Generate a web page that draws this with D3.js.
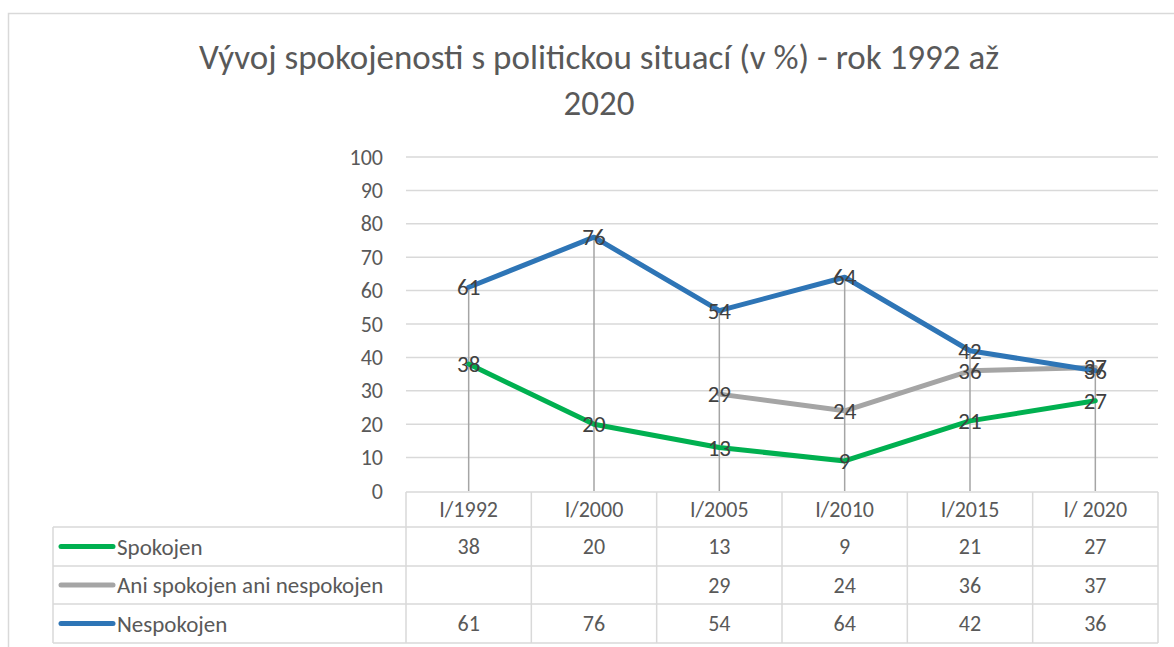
<!DOCTYPE html>
<html>
<head>
<meta charset="utf-8">
<script src="https://cdn.jsdelivr.net/npm/d3@7"></script>
<style>
  body { margin: 0; background: #fff; }
  text { font-family: Carlito, Lato, "Open Sans", sans-serif; }
</style>
</head>
<body>
<div id="chart"></div>
<script>
// data
const categories = ["I/1992", "I/2000", "I/2005", "I/2010", "I/2015", "I/ 2020"];
const spokojen = [38, 20, 13, 9, 21, 27];
const ani = [null, null, 29, 24, 36, 37];
const nespokojen = [61, 76, 54, 64, 42, 36];
const seriesNames = ["Spokojen", "Ani spokojen ani nespokojen", "Nespokojen"];
const yTicks = [0, 10, 20, 30, 40, 50, 60, 70, 80, 90, 100];

const colors = ["#00b050", "#a5a5a5", "#2e75b6"];
const allSeries = [spokojen, ani, nespokojen];

const W = 1174, H = 647;
const plot = { left: 406, right: 1158, top: 157, bottom: 491 };
const rowH = [492, 527, 566, 604, 643];

const svg = d3.select("#chart").append("svg")
  .attr("width", W).attr("height", H);

svg.append("rect").attr("width", W).attr("height", H).attr("fill", "#fff");

// outer chart frame
svg.append("rect")
  .attr("x", 8.5).attr("y", 13.5)
  .attr("width", 1300).attr("height", 800)
  .attr("fill", "none").attr("stroke", "#d9d9d9").attr("stroke-width", 1.5);

// title
svg.append("text")
  .attr("x", 599).attr("y", 69)
  .attr("text-anchor", "middle")
  .attr("font-size", 35).attr("font-weight", 300)
  .attr("fill", "#595959")
  .text("Vývoj spokojenosti s politickou situací (v %) - rok 1992 až");
svg.append("text")
  .attr("x", 599).attr("y", 115)
  .attr("text-anchor", "middle")
  .attr("font-size", 35).attr("font-weight", 300)
  .attr("fill", "#595959")
  .text("2020");

const x = d3.scaleBand().domain(categories).range([plot.left, plot.right]).padding(0);
const y = d3.scaleLinear().domain([0, 100]).range([plot.bottom, plot.top]);
const cx = (c) => x(c) + x.bandwidth() / 2;

// gridlines
svg.append("g")
  .selectAll("line")
  .data(yTicks.filter((t) => t > 0))
  .enter()
  .append("line")
  .attr("x1", plot.left).attr("x2", plot.right)
  .attr("y1", (d) => y(d)).attr("y2", (d) => y(d))
  .attr("stroke", "#d9d9d9").attr("stroke-width", 1.5);

// y axis labels
const yAxis = d3.axisLeft(y).tickValues(yTicks).tickSize(0).tickPadding(0);
const gy = svg.append("g").attr("transform", "translate(383,0)").call(yAxis);
gy.select(".domain").remove();
gy.selectAll("text")
  .attr("font-size", 22).attr("fill", "#595959")
  .attr("font-family", "Carlito, Lato, 'Open Sans', sans-serif");

// drop lines from highest point to axis
svg.append("g")
  .selectAll("line")
  .data(categories)
  .enter()
  .append("line")
  .attr("x1", (d) => cx(d)).attr("x2", (d) => cx(d))
  .attr("y1", (d, i) => y(d3.max(allSeries, (s) => s[i])))
  .attr("y2", plot.bottom)
  .attr("stroke", "#a5a5a5").attr("stroke-width", 1.5);

// series lines
const line = d3.line()
  .defined((d) => d != null)
  .x((d, i) => cx(categories[i]))
  .y((d) => y(d));

allSeries.forEach((s, k) => {
  svg.append("path")
    .datum(s)
    .attr("d", line)
    .attr("fill", "none")
    .attr("stroke", colors[k])
    .attr("stroke-width", 5)
    .attr("stroke-linejoin", "round")
    .attr("stroke-linecap", "round");
});

// data labels
allSeries.forEach((s, k) => {
  svg.append("g")
    .selectAll("text")
    .data(s.map((v, i) => ({ v: v, c: categories[i] })).filter((d) => d.v != null))
    .enter()
    .append("text")
    .attr("x", (d) => cx(d.c))
    .attr("y", (d) => y(d.v))
    .attr("dy", "0.35em")
    .attr("text-anchor", "middle")
    .attr("font-size", 23)
    .attr("fill", "#404040")
    .text((d) => d.v);
});

// data table
const grid = svg.append("g")
  .attr("stroke", "#d9d9d9").attr("stroke-width", 1.5).attr("fill", "none");
const tableLeft = 53;

// horizontal lines
grid.append("line")
  .attr("x1", plot.left).attr("x2", plot.right)
  .attr("y1", rowH[0]).attr("y2", rowH[0]);
rowH.slice(1).forEach((yy) => {
  grid.append("line")
    .attr("x1", tableLeft).attr("x2", plot.right)
    .attr("y1", yy).attr("y2", yy);
});
// vertical lines
grid.append("line")
  .attr("x1", tableLeft).attr("x2", tableLeft)
  .attr("y1", rowH[1]).attr("y2", rowH[4]);
categories.forEach((c) => {
  grid.append("line")
    .attr("x1", x(c)).attr("x2", x(c))
    .attr("y1", rowH[0]).attr("y2", rowH[4]);
});
grid.append("line")
  .attr("x1", plot.right).attr("x2", plot.right)
  .attr("y1", rowH[0]).attr("y2", rowH[4]);

// header labels
svg.append("g")
  .selectAll("text")
  .data(categories)
  .enter()
  .append("text")
  .attr("x", (d) => cx(d))
  .attr("y", (rowH[0] + rowH[1]) / 2)
  .attr("dy", "0.35em")
  .attr("text-anchor", "middle")
  .attr("font-size", 22)
  .attr("fill", "#595959")
  .text((d) => d);

// rows
allSeries.forEach((s, k) => {
  const mid = (rowH[k + 1] + rowH[k + 2]) / 2;
  svg.append("line")
    .attr("x1", 61).attr("x2", 113)
    .attr("y1", mid).attr("y2", mid)
    .attr("stroke", colors[k]).attr("stroke-width", 5)
    .attr("stroke-linecap", "round");
  svg.append("text")
    .attr("x", 117).attr("y", mid)
    .attr("dy", "0.35em")
    .attr("font-size", 23)
    .attr("fill", "#595959")
    .text(seriesNames[k]);
  svg.append("g")
    .selectAll("text")
    .data(s.map((v, i) => ({ v: v, c: categories[i] })).filter((d) => d.v != null))
    .enter()
    .append("text")
    .attr("x", (d) => cx(d.c))
    .attr("y", mid)
    .attr("dy", "0.35em")
    .attr("text-anchor", "middle")
    .attr("font-size", 22)
    .attr("fill", "#595959")
    .text((d) => d.v);
});
</script>
</body>
</html>
